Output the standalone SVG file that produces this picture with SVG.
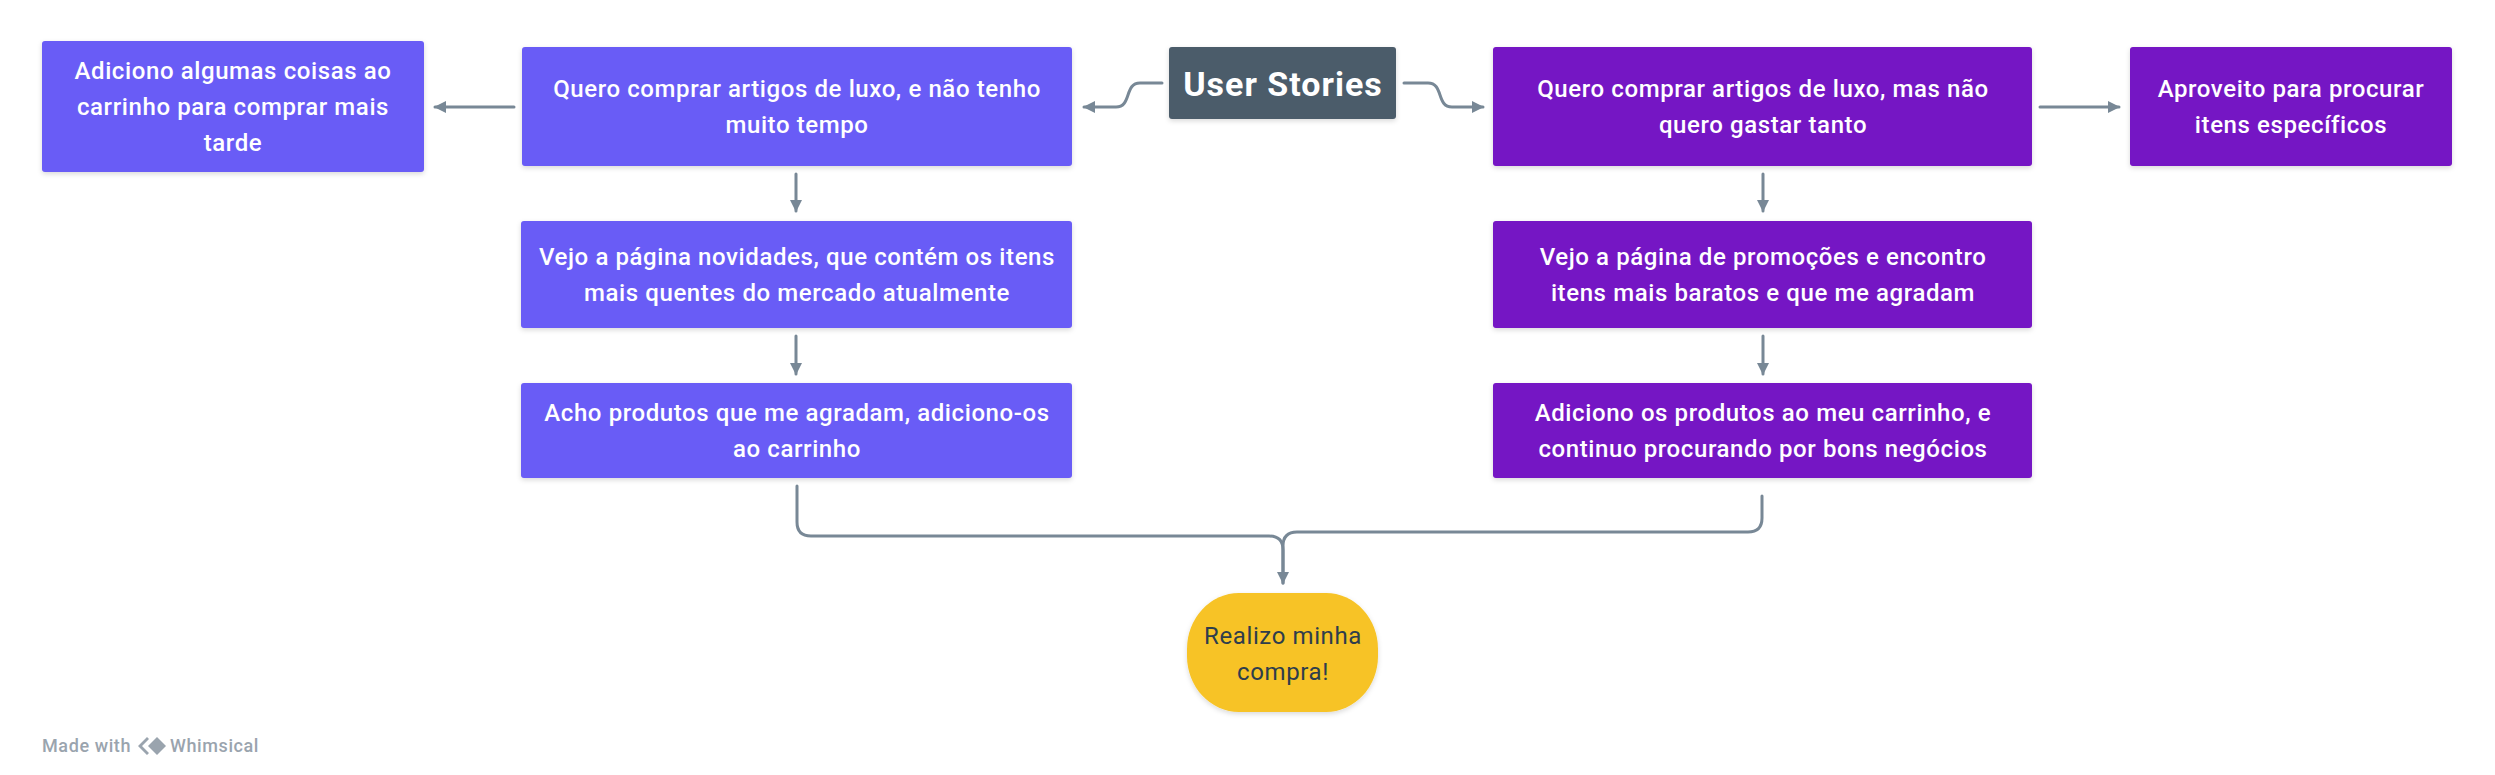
<svg xmlns="http://www.w3.org/2000/svg" width="2495" height="775" viewBox="0 0 2495 775">
<defs>
<filter id="sh" x="-10%" y="-10%" width="120%" height="130%">
<feDropShadow dx="0" dy="2" stdDeviation="2.5" flood-color="#000" flood-opacity="0.15"/>
</filter>
<marker id="ah" viewBox="0 0 12 14" refX="11" refY="7" markerWidth="12" markerHeight="14" markerUnits="userSpaceOnUse" orient="auto">
<path d="M0,1 L12,7 L0,13 z" fill="#788896"/>
</marker>
</defs>
<style>
.indigo{fill:#695bf6;filter:url(#sh)}
.purple{fill:#7512c4;filter:url(#sh)}
.t{font-family:Roboto,"Liberation Sans",sans-serif;font-weight:500;font-size:24px;letter-spacing:0.6px;fill:#fff;text-anchor:middle}
.r{font-family:Roboto,"Liberation Sans",sans-serif;font-size:24px;letter-spacing:0.6px;fill:#2e3d4c;text-anchor:middle}
.w{font-family:Roboto,"Liberation Sans",sans-serif;font-weight:500;font-size:18px;letter-spacing:0.6px}
.c{fill:none;stroke:#788896;stroke-width:3;stroke-linecap:round;stroke-linejoin:round}
</style>
<rect width="2495" height="775" fill="#fff"/>

<g id="connectors">
<path class="c" d="M1162,83 H1140 C1124,83 1132,107 1116,107 H1084" marker-end="url(#ah)"/>
<path class="c" d="M1404,83 H1428 C1444,83 1436,107 1452,107 H1483" marker-end="url(#ah)"/>
<path class="c" d="M514,107 H435" marker-end="url(#ah)"/>
<path class="c" d="M2040,107 H2119" marker-end="url(#ah)"/>
<path class="c" d="M796,174 V211" marker-end="url(#ah)"/>
<path class="c" d="M796,336 V374" marker-end="url(#ah)"/>
<path class="c" d="M1763,174 V211" marker-end="url(#ah)"/>
<path class="c" d="M1763,336 V374" marker-end="url(#ah)"/>
<path class="c" d="M797,486 V522 Q797,536 811,536 H1269 Q1283,536 1283,550 V583" marker-end="url(#ah)"/>
<path class="c" d="M1762,496 V518 Q1762,532 1748,532 H1297 Q1283,532 1283,546 V583"/>
</g>

<g id="node-user-stories">
<rect x="1169" y="47" width="227" height="72" rx="3" fill="#4b5c6b" filter="url(#sh)"/>
<text x="1283" y="96" font-family="Roboto,'Liberation Sans',sans-serif" font-weight="700" font-size="34" letter-spacing="1" fill="#fff" text-anchor="middle">User Stories</text>
</g>

<g id="node-adiciono-coisas">
<rect class="indigo" x="42" y="41" width="382" height="131" rx="3"/>
<text class="t" x="233" y="79">Adiciono algumas coisas ao</text>
<text class="t" x="233" y="115">carrinho para comprar mais</text>
<text class="t" x="233" y="151">tarde</text>
</g>

<g id="node-luxo-tempo">
<rect class="indigo" x="522" y="47" width="550" height="119" rx="3"/>
<text class="t" x="797" y="97">Quero comprar artigos de luxo, e não tenho</text>
<text class="t" x="797" y="133">muito tempo</text>
</g>

<g id="node-novidades">
<rect class="indigo" x="521" y="221" width="551" height="107" rx="3"/>
<text class="t" x="797" y="265">Vejo a página novidades, que contém os itens</text>
<text class="t" x="797" y="301">mais quentes do mercado atualmente</text>
</g>

<g id="node-acho-produtos">
<rect class="indigo" x="521" y="383" width="551" height="95" rx="3"/>
<text class="t" x="797" y="421">Acho produtos que me agradam, adiciono-os</text>
<text class="t" x="797" y="457">ao carrinho</text>
</g>

<g id="node-luxo-gastar">
<rect class="purple" x="1493" y="47" width="539" height="119" rx="3"/>
<text class="t" x="1763" y="97">Quero comprar artigos de luxo, mas não</text>
<text class="t" x="1763" y="133">quero gastar tanto</text>
</g>

<g id="node-aproveito">
<rect class="purple" x="2130" y="47" width="322" height="119" rx="3"/>
<text class="t" x="2291" y="97">Aproveito para procurar</text>
<text class="t" x="2291" y="133">itens específicos</text>
</g>

<g id="node-promocoes">
<rect class="purple" x="1493" y="221" width="539" height="107" rx="3"/>
<text class="t" x="1763" y="265">Vejo a página de promoções e encontro</text>
<text class="t" x="1763" y="301">itens mais baratos e que me agradam</text>
</g>

<g id="node-adiciono-produtos">
<rect class="purple" x="1493" y="383" width="539" height="95" rx="3"/>
<text class="t" x="1763" y="421">Adiciono os produtos ao meu carrinho, e</text>
<text class="t" x="1763" y="457">continuo procurando por bons negócios</text>
</g>

<g id="node-realizo">
<rect x="1187" y="593" width="191" height="119" rx="52" ry="56" fill="#f7c325" filter="url(#sh)"/>
<text class="r" x="1283" y="644">Realizo minha</text>
<text class="r" x="1283" y="680">compra!</text>
</g>

<g id="watermark" fill="#9aa4ae">
<text class="w" x="42" y="752">Made with</text>
<path d="M147,737 L138,746 L147,755 L149,753 L142,746 L149,739 z"/>
<path d="M157,737 L166,746 L157,755 L148,746 z"/>
<text class="w" x="170" y="752">Whimsical</text>
</g>
</svg>
